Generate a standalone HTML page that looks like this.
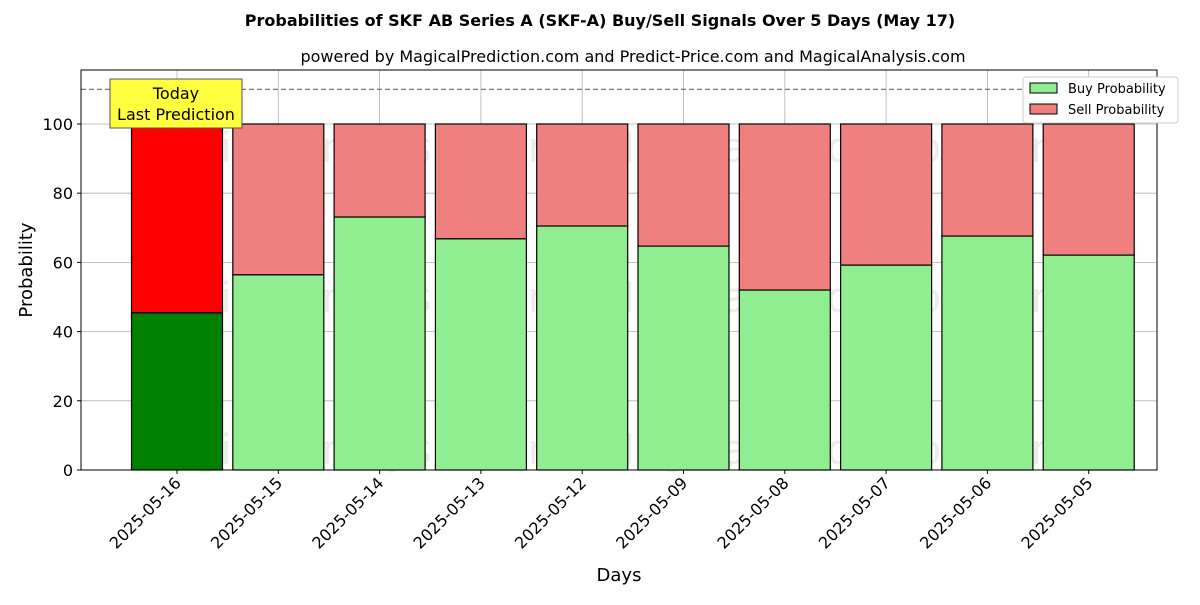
<!DOCTYPE html>
<html><head><meta charset="utf-8"><style>
body{margin:0;background:#fff;font-family:"Liberation Sans","DejaVu Sans",sans-serif}
</style></head><body>
<svg id="chart" width="1200" height="600" xmlns="http://www.w3.org/2000/svg" font-family="DejaVu Sans, Liberation Sans, sans-serif">
<text x="600" y="26" text-anchor="middle" font-size="16" font-weight="bold">Probabilities of SKF AB Series A (SKF-A) Buy/Sell Signals Over 5 Days (May 17)</text>
<text x="633" y="62" text-anchor="middle" font-size="16">powered by MagicalPrediction.com and Predict-Price.com and MagicalAnalysis.com</text>
<g id="plot"></g>
</svg>
<script>
const categories=["2025-05-16","2025-05-15","2025-05-14","2025-05-13","2025-05-12","2025-05-09","2025-05-08","2025-05-07","2025-05-06","2025-05-05"];
const buyValues=[45.4,56.4,73.1,66.8,70.5,64.7,52.0,59.2,67.6,62.1];
const yTicks=[0,20,40,60,80,100];
const NS="http://www.w3.org/2000/svg";
const L=81,R=1157,T=70,B=470,YMAX=115.6;
const y=v=>B-(v/YMAX)*(B-T);
const step=101.3,x=i=>177+i*step,bw=91;
const g=document.getElementById('plot');
function mk(t,a,p){const e=document.createElementNS(NS,t);for(const k in a)e.setAttribute(k,a[k]);(p||g).appendChild(e);return e;}
// grid
yTicks.forEach(v=>{
 const l=mk('line',{x1:L,x2:R,y1:y(v),y2:y(v),stroke:'#b0b0b0','stroke-width':0.8});
 
 
 mk('line',{x1:L-4,x2:L,y1:y(v),y2:y(v),stroke:'#000'});
 const t=mk('text',{x:L-8,y:y(v)+6,'text-anchor':'end','font-size':16});t.textContent=v;
 
 
});
categories.forEach((c,i)=>{
 const l=mk('line',{x1:x(i),x2:x(i),y1:T,y2:B,stroke:'#b0b0b0','stroke-width':0.8});
 
 
});
// watermarks
[[350,148],[835,148],[350,298],[835,298],[350,450],[835,450]].forEach((p,k)=>{
 const t=mk('text',{x:p[0],y:p[1]+14,'text-anchor':'middle','font-size':42,fill:'rgba(150,150,150,0.18)'});
 t.textContent=k%2?'MagicalPrediction.com':'MagicalAnalysis.com';
 
 
});
categories.forEach((c,i)=>{
 const b=buyValues[i],x0=x(i)-bw/2;
 const sell=mk('rect',{x:x0,y:y(100),width:bw,height:y(b)-y(100),fill:i==0?'#ff0000':'#f08080',stroke:'#000','stroke-width':1.2});
 
 
 const buy=mk('rect',{x:x0,y:y(b),width:bw,height:B-y(b),fill:i==0?'#008000':'#90ee90',stroke:'#000','stroke-width':1.2});
 
 
 mk('line',{x1:x(i),x2:x(i),y1:B,y2:B+4,stroke:'#000'});
 const t=mk('text',{x:0,y:0,'text-anchor':'end','font-size':16,transform:`translate(${x(i)+5},${B+14}) rotate(-45)`});
 t.textContent=c;
 
 
});
const dl=mk('line',{x1:L,x2:R,y1:y(110),y2:y(110),stroke:'#777','stroke-dasharray':'5,3','stroke-width':1.2});


mk('rect',{x:L,y:T,width:R-L,height:B-T,fill:'none',stroke:'#000','stroke-width':1});
// today annotation
const ab=mk('rect',{x:110,y:79,width:132,height:49,fill:'#ffff40',stroke:'#555'});


[['Today',99],['Last Prediction',120]].forEach(s=>{const t=mk('text',{x:176,y:s[1],'text-anchor':'middle','font-size':16});t.textContent=s[0];});
// legend
const lg=mk('g',{});


mk('rect',{x:1023,y:77,width:155,height:46,fill:'#fff',stroke:'#ccc',rx:3},lg);
[['Buy Probability','#90ee90',89],['Sell Probability','#f08080',110]].forEach(s=>{
 mk('rect',{x:1030,y:s[2]-6,width:27,height:10,fill:s[1],stroke:'#000'},lg);
 const t=mk('text',{x:1068,y:s[2]+4,'font-size':13},lg);t.textContent=s[0];
 
 
});
const xt=mk('text',{x:619,y:581,'text-anchor':'middle','font-size':18});xt.textContent='Days';


const yt=mk('text',{x:0,y:0,'text-anchor':'middle','font-size':18,transform:'translate(32,270) rotate(-90)'});yt.textContent='Probability';


</script>
</body></html>
